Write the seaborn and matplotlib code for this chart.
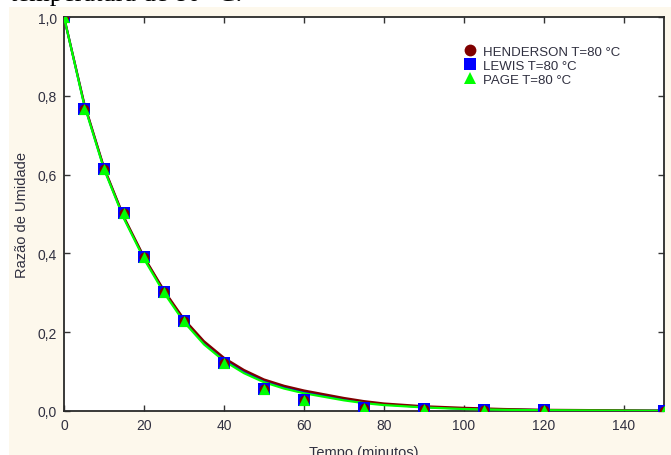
import matplotlib
matplotlib.use("Agg")
import matplotlib.pyplot as plt
import seaborn as sns
import pandas as pd
from matplotlib.patches import Rectangle
from matplotlib.lines import Line2D
from matplotlib.ticker import FuncFormatter

# ---- data ----
tempo_obs = [0, 5, 10, 15, 20, 25, 30, 40, 50, 60, 75, 90, 105, 120, 150]
ru_obs = [1.0, 0.766, 0.614, 0.503, 0.391, 0.302, 0.228, 0.122, 0.056, 0.028,
          0.008, 0.005, 0.003, 0.002, 0.001]

tempo_curve = [0, 5, 10, 15, 20, 25, 30, 35, 40, 45, 50, 55, 60, 70, 75, 80, 90,
               100, 110, 120, 135, 150]
ru_henderson = [1.0, 0.783, 0.618, 0.492, 0.391, 0.306, 0.233, 0.177, 0.135, 0.104,
                0.080, 0.064, 0.052, 0.033, 0.025, 0.019, 0.012, 0.008, 0.005,
                0.003, 0.002, 0.001]
ru_lewis = [1.0, 0.781, 0.616, 0.490, 0.389, 0.304, 0.230, 0.174, 0.132, 0.100,
            0.077, 0.061, 0.049, 0.030, 0.023, 0.017, 0.010, 0.006, 0.004,
            0.002, 0.001, 0.0007]
ru_page = [1.0, 0.779, 0.614, 0.488, 0.386, 0.300, 0.226, 0.169, 0.127, 0.096,
           0.073, 0.057, 0.045, 0.027, 0.020, 0.015, 0.009, 0.005, 0.003,
           0.002, 0.001, 0.0005]

modelos = ["HENDERSON T=80 °C", "LEWIS T=80 °C", "PAGE T=80 °C"]
cores = {"HENDERSON T=80 °C": "#800000", "LEWIS T=80 °C": "#0000ff",
         "PAGE T=80 °C": "#00ff00"}
marcadores = {"HENDERSON T=80 °C": "o", "LEWIS T=80 °C": "s",
              "PAGE T=80 °C": "^"}

xticks = [0, 20, 40, 60, 80, 100, 120, 140]
yticks = [0.0, 0.2, 0.4, 0.6, 0.8, 1.0]

curvas = pd.DataFrame({
    "tempo": tempo_curve * 3,
    "ru": ru_henderson + ru_lewis + ru_page,
    "modelo": [modelos[0]] * len(tempo_curve) + [modelos[1]] * len(tempo_curve)
              + [modelos[2]] * len(tempo_curve),
})
obs = pd.DataFrame({"tempo": tempo_obs, "ru": ru_obs})

sns.set_style("ticks")
plt.rcParams["font.family"] = ["Liberation Sans", "DejaVu Sans"]

W, H = 671, 456
fig = plt.figure(figsize=(W / 100, H / 100), dpi=100, facecolor="white")

# caption cut at the top (from the source document)
fig.text(10 / W, 1 - 1 / H, "temperatura de 80 °C.", family=["Liberation Serif", "DejaVu Serif"],
         fontsize=19, ha="left", va="baseline", color="black", zorder=-2)
# cream panel
fig.patches.append(Rectangle((9 / W, 0), 1 - 9 / W, 1 - 8 / H, transform=fig.transFigure,
                             facecolor="#fdf8ec", edgecolor="none", zorder=-1))

ax = fig.add_axes([64 / W, (H - 412) / H, 600 / W, 394 / H])
ax.set_facecolor("white")

# curves
ordem_linhas = ["LEWIS T=80 °C", "HENDERSON T=80 °C", "PAGE T=80 °C"]
for i, m in enumerate(ordem_linhas):
    sns.lineplot(data=curvas[curvas["modelo"] == m], x="tempo", y="ru", color=cores[m],
                 linewidth=1.6, ax=ax, legend=False, zorder=2 + i, sort=True,
                 estimator=None)

# observed points with each model's marker
ordem_pts = ["LEWIS T=80 °C", "HENDERSON T=80 °C", "PAGE T=80 °C"]
tamanhos = {"LEWIS T=80 °C": 65, "HENDERSON T=80 °C": 50, "PAGE T=80 °C": 65}
for i, m in enumerate(ordem_pts):
    sns.scatterplot(data=obs, x="tempo", y="ru", marker=marcadores[m], color=cores[m],
                    s=tamanhos[m], linewidth=0, ax=ax, legend=False, zorder=6 + i)

ax.set_xlim(0, 150)
ax.set_ylim(0, 1.0)
ax.set_xticks(xticks)
ax.set_yticks(yticks)
ax.yaxis.set_major_formatter(FuncFormatter(lambda v, p: f"{v:.1f}".replace(".", ",")))
ax.xaxis.set_major_formatter(FuncFormatter(lambda v, p: f"{v:.0f}"))

txt_color = "#303040"
ax.tick_params(direction="in", length=4, width=1, color="#333333", top=True, right=True,
               labelsize=10, labelcolor=txt_color, pad=5)
for s in ax.spines.values():
    s.set_visible(True)
    s.set_color("#2a2a2a")
    s.set_linewidth(1.3)

ax.set_xlabel("Tempo (minutos)", fontsize=10.5, color=txt_color)
ax.set_ylabel("Razão de Umidade", fontsize=10.5, color=txt_color)
ax.xaxis.set_label_coords(0.5, -0.086)
ax.xaxis.label.set_va("top")
ax.yaxis.set_label_coords(-0.058, 0.5)

handles = [Line2D([], [], linestyle="none", marker=marcadores[m], color=cores[m],
                  markersize=9 if marcadores[m] != "o" else 8.5, markeredgewidth=0)
           for m in modelos]
ax.legend(handles, modelos, loc="upper left", bbox_to_anchor=(0.655, 0.944),
          frameon=False, fontsize=9.5, borderpad=0, handlelength=1.0,
          handletextpad=0.5, labelspacing=0.12, labelcolor=txt_color)

fig.savefig("out.png", dpi=100, facecolor=fig.get_facecolor())
